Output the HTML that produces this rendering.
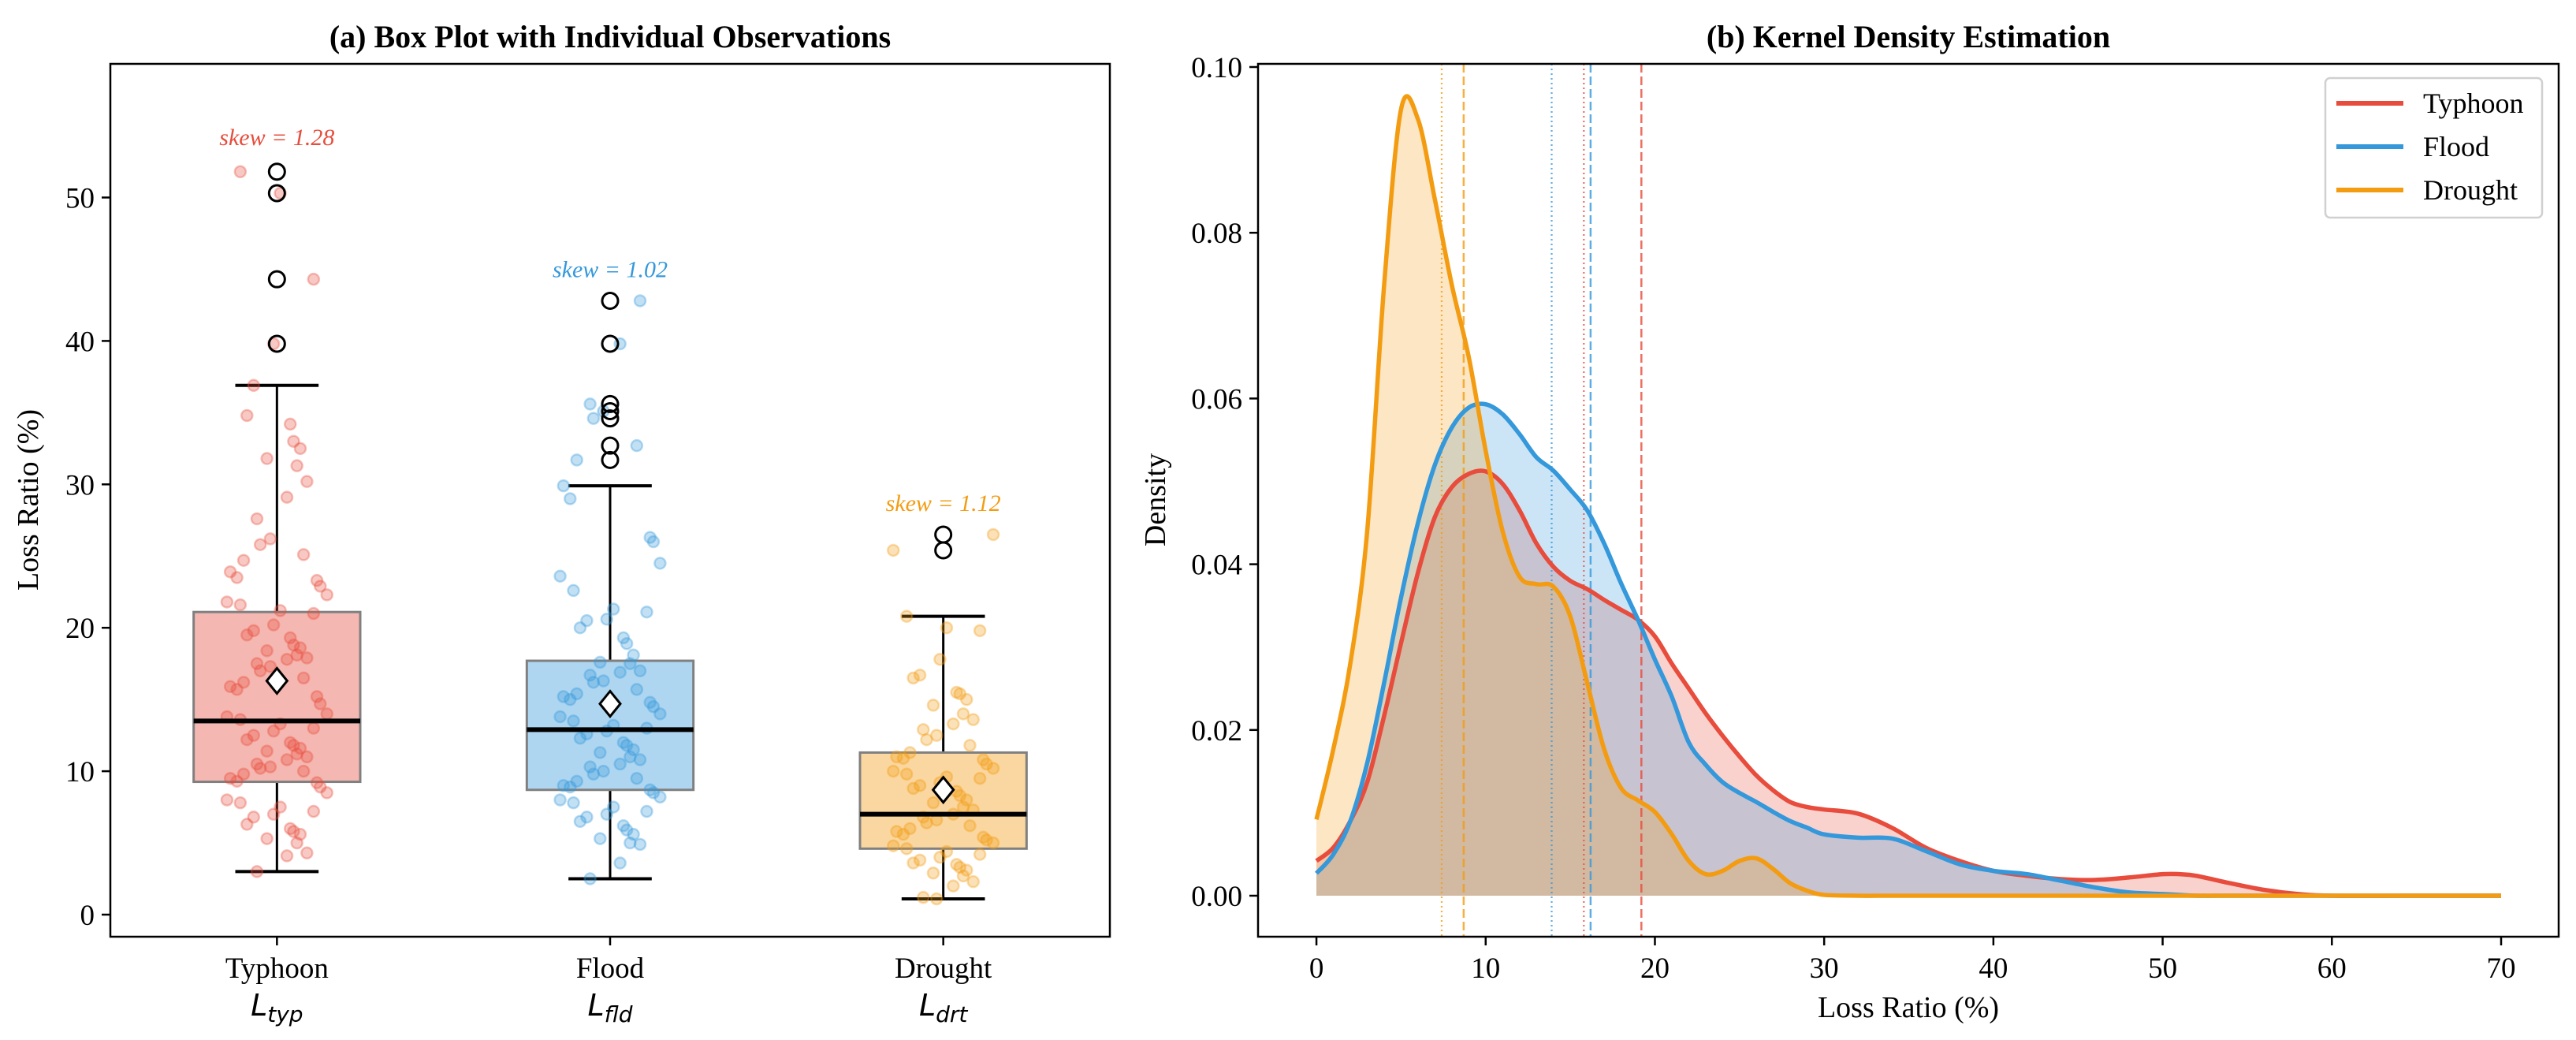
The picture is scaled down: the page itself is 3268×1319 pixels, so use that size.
<!DOCTYPE html>
<html><head><meta charset="utf-8"><style>
html,body{margin:0;padding:0;background:#fff;}
svg{display:block;font-family:"Liberation Serif","DejaVu Serif",serif;}
</style></head><body>
<svg id="fig" width="3268" height="1319" viewBox="0 0 3268 1319" xmlns="http://www.w3.org/2000/svg">
<rect width="3268" height="1319" fill="#fff"/>
<g id="left"></g>
<g id="right"></g>
</svg>
<script>
// ---------- Box plot data ----------
const boxCats = ["Typhoon","Flood","Drought"];
const boxSubs = ["typ","fld","drt"];
const boxColors = ["#e74c3c","#3498db","#f39c12"];
const boxQ1 = [9.26, 8.7, 4.6];
const boxMed = [13.5, 12.9, 7.0];
const boxQ3 = [21.1, 17.7, 11.3];
const boxMean = [16.3, 14.7, 8.7];
const whiskLo = [3.0, 2.5, 1.1];
const whiskHi = [36.9, 29.9, 20.8];
const skews = ["1.28","1.02","1.12"];
const skewY = [54.2, 45.0, 28.7];
const outTyp = [51.8, 50.3, 44.3, 39.8];
const outFld = [42.8, 39.8, 35.6, 35.1, 34.6, 32.7, 31.7];
const outDrt = [26.5, 25.4];
const ptsTyp = [51.8,50.3,44.3,39.8,36.9,34.8,34.2,33.0,32.5,31.8,31.3,30.2,29.1,27.6,26.2,25.8,25.1,24.7,23.9,23.5,23.3,22.9,22.3,21.8,21.6,21.2,21.0,20.2,19.8,19.5,19.3,18.8,18.6,18.4,18.1,17.9,17.8,17.5,17.3,17.0,16.5,16.2,15.9,15.7,15.2,14.7,14.0,13.8,13.6,13.3,13.0,12.8,12.5,12.2,12.0,11.8,11.6,11.4,11.2,11.0,10.8,10.5,10.3,10.2,10.0,9.8,9.5,9.3,9.2,8.9,8.5,8.0,7.8,7.5,7.2,7.0,6.8,6.3,6.0,5.8,5.6,5.3,5.0,4.3,4.1,3.0];
const ptsFld = [42.8,39.8,35.6,35.1,34.6,32.7,31.7,29.9,29.0,26.3,26.0,24.5,23.6,22.6,21.3,21.1,20.6,20.5,20.0,19.3,18.9,18.1,17.6,17.5,17.0,16.9,16.7,16.3,16.2,15.7,15.4,15.2,15.0,14.8,14.5,14.0,13.8,13.5,13.2,13.0,12.8,12.6,12.3,12.0,11.8,11.5,11.3,11.0,10.8,10.5,10.3,10.0,9.8,9.5,9.3,9.0,8.9,8.7,8.5,8.2,8.0,7.8,7.5,7.2,7.0,6.8,6.5,6.2,5.9,5.6,5.3,5.0,4.9,3.6,2.5];
const ptsDrt = [26.5,25.4,20.8,20.0,19.8,17.8,16.7,16.5,15.5,15.4,15.0,14.6,14.0,13.6,13.3,12.9,12.5,12.2,11.8,11.3,11.0,10.9,10.8,10.5,10.2,10.0,9.8,9.6,9.5,9.2,9.0,8.8,8.6,8.3,8.0,7.8,7.5,7.3,7.0,6.8,6.6,6.4,6.2,6.0,5.8,5.6,5.4,5.2,5.0,4.8,4.6,4.4,4.2,4.0,3.8,3.6,3.5,3.3,3.1,2.9,2.7,2.3,2.0,1.2,1.1];
const boxPts = [ptsTyp, ptsFld, ptsDrt];
const boxOut = [outTyp, outFld, outDrt];
const boxYTicks = [0,10,20,30,40,50];

// ---------- KDE data ----------
const kdeX = [0,1,2,3,4,5,6,7,8,9,10,11,12,13,14,15,16,17,18,19,20,21,22,23,24,25,26,27,28,29,30,32,34,36,38,40,42,44,46,48,50,51,52,54,56,58,60,65,70];
const kdeTyp = [0.0042,0.0058,0.009,0.0137,0.0217,0.0305,0.039,0.0457,0.0493,0.0509,0.0512,0.0497,0.0465,0.0425,0.0397,0.038,0.037,0.0357,0.0345,0.0333,0.0313,0.028,0.025,0.022,0.0193,0.0168,0.0145,0.0127,0.0113,0.0107,0.0104,0.0099,0.0082,0.0058,0.0042,0.003,0.0024,0.002,0.0019,0.0022,0.0026,0.0026,0.0024,0.0015,0.0007,0.0002,0,0,0];
const kdeFld = [0.0027,0.005,0.009,0.016,0.0257,0.036,0.045,0.052,0.0565,0.0589,0.0593,0.0581,0.0557,0.0529,0.0513,0.049,0.0465,0.0425,0.0377,0.0333,0.0285,0.024,0.0185,0.0158,0.0137,0.0124,0.0113,0.0101,0.009,0.0082,0.0074,0.007,0.0069,0.0054,0.0038,0.003,0.0026,0.0018,0.001,0.0004,0.0002,0.0001,0,0,0,0,0,0,0];
const kdeDrt = [0.0092,0.0177,0.028,0.044,0.0737,0.0949,0.0937,0.084,0.0737,0.065,0.0537,0.044,0.0385,0.0376,0.0373,0.0337,0.0257,0.0177,0.013,0.0115,0.0101,0.0074,0.0042,0.0026,0.003,0.0042,0.0045,0.0032,0.0015,0.0006,0.0001,0,0,0,0,0,0,0,0,0,0,0,0,0,0,0,0,0,0];
const kdeSeries = [kdeTyp, kdeFld, kdeDrt];
const kdeNames = ["Typhoon","Flood","Drought"];
const kdeMedians = [15.8, 13.9, 7.4];
const kdeMeans = [19.2, 16.2, 8.7];
const kdeXTicks = [0,10,20,30,40,50,60,70];
const kdeYTicks = [0,0.02,0.04,0.06,0.08,0.10];

const NS = "http://www.w3.org/2000/svg";
function mk(parent, tag, attrs, text){
  const e = document.createElementNS(NS, tag);
  for (const k in attrs) e.setAttribute(k, attrs[k]);
  if (text !== undefined) e.textContent = text;
  parent.appendChild(e);
  return e;
}
const jitterPattern = [-0.11,0.05,-0.02,0.13,-0.07,0.09,-0.14,0.01,0.07,-0.05,0.15,-0.09,0.03,-0.12,0.11,-0.03,0.08,-0.15,0.04,-0.06,0.12,-0.01,0.06,-0.1];

// ---------- Left panel ----------
(function(){
  const g = document.getElementById('left');
  const L=140, R=1408, T=81, B=1188;
  const xs = v => L + (v-0.5)/3*(R-L);
  const ys = v => 1160 - v*18.19;
  let t;
  t = mk(g,'text',{x:774,y:60,'text-anchor':'middle','font-size':40,'font-weight':'bold'},'(a) Box Plot with Individual Observations');
   
  t = mk(g,'text',{x:0,y:0,transform:'translate(48,634) rotate(-90)','text-anchor':'middle','font-size':38},'Loss Ratio (%)');
   
  boxYTicks.forEach(v=>{
    const y=ys(v);
    const tk = mk(g,'line',{x1:L-11,x2:L,y1:y,y2:y,stroke:'#000','stroke-width':2.5});
     
    const lb = mk(g,'text',{x:L-20,y:y+13,'text-anchor':'end','font-size':37},String(v));
     
  });
  boxCats.forEach((c,i)=>{
    const cx = xs(i+1), col = boxColors[i], hw = 0.25*(R-L)/3, cw = 0.125*(R-L)/3;
    const grp = mk(g,'g',{});
     
    // whiskers
    let w = mk(grp,'line',{x1:cx,x2:cx,y1:ys(boxQ3[i]),y2:ys(whiskHi[i]),stroke:'#000','stroke-width':3});
     
    w = mk(grp,'line',{x1:cx,x2:cx,y1:ys(boxQ1[i]),y2:ys(whiskLo[i]),stroke:'#000','stroke-width':3});
     
    w = mk(grp,'line',{x1:cx-cw,x2:cx+cw,y1:ys(whiskHi[i]),y2:ys(whiskHi[i]),stroke:'#000','stroke-width':4});
     
    w = mk(grp,'line',{x1:cx-cw,x2:cx+cw,y1:ys(whiskLo[i]),y2:ys(whiskLo[i]),stroke:'#000','stroke-width':4});
     
    const rect = mk(grp,'rect',{x:cx-hw,y:ys(boxQ3[i]),width:2*hw,height:ys(boxQ1[i])-ys(boxQ3[i]),fill:col,'fill-opacity':0.4,stroke:'#808080','stroke-width':3});
     
    // points
    boxPts[i].forEach((v,k)=>{
      const p = mk(grp,'circle',{cx:cx+jitterPattern[(k*7+i*5)%jitterPattern.length]*(R-L)/3,cy:ys(v),r:7,fill:col,'fill-opacity':0.3,stroke:col,'stroke-opacity':0.35,'stroke-width':2.5});
       
    });
    const med = mk(grp,'line',{x1:cx-hw,x2:cx+hw,y1:ys(boxMed[i]),y2:ys(boxMed[i]),stroke:'#000','stroke-width':6});
     
    boxOut[i].forEach(v=>{
      const o = mk(grp,'circle',{cx:cx,cy:ys(v),r:10,fill:'none',stroke:'#000','stroke-width':3});
       
    });
    const my = ys(boxMean[i]);
    const d = mk(grp,'polygon',{points:`${cx},${my-16} ${cx+13},${my} ${cx},${my+16} ${cx-13},${my}`,fill:'#fff',stroke:'#000','stroke-width':3});
     
    const sk = mk(g,'text',{x:cx,y:ys(skewY[i])+10,'text-anchor':'middle','font-size':30,'font-style':'italic',fill:col},'skew = '+skews[i]);
     
    const tk = mk(g,'line',{x1:cx,x2:cx,y1:B,y2:B+11,stroke:'#000','stroke-width':2.5});
     
    const lb = mk(g,'text',{x:cx,y:1240,'text-anchor':'middle','font-size':37},c);
     
    const sb = mk(g,'text',{x:cx,y:1288,'text-anchor':'middle','font-size':38,'font-family':'"DejaVu Sans",sans-serif','font-style':'oblique'});
     
    mk(sb,'tspan',{},'L');
    mk(sb,'tspan',{'font-size':28,dy:8},boxSubs[i]);
  });
  const fr = mk(g,'rect',{x:L,y:T,width:R-L,height:B-T,fill:'none',stroke:'#000','stroke-width':2.5});
   
})();

// ---------- Right panel ----------
(function(){
  const g = document.getElementById('right');
  const L=1596, R=3246, T=81, B=1188;
  const xs = v => L + (v+3.45)/(73.4+3.45)*(R-L);
  const ys = v => 1136 - v*10510;
  let t;
  t = mk(g,'text',{x:2421,y:60,'text-anchor':'middle','font-size':40,'font-weight':'bold'},'(b) Kernel Density Estimation');
   
  t = mk(g,'text',{x:0,y:0,transform:'translate(1478,634) rotate(-90)','text-anchor':'middle','font-size':38},'Density');
   
  t = mk(g,'text',{x:2421,y:1290,'text-anchor':'middle','font-size':38},'Loss Ratio (%)');
   
  kdeYTicks.forEach(v=>{
    const y=ys(v);
    const tk = mk(g,'line',{x1:L-11,x2:L,y1:y,y2:y,stroke:'#000','stroke-width':2.5});
     
    const lb = mk(g,'text',{x:L-20,y:y+13,'text-anchor':'end','font-size':37},v.toFixed(2));
     
  });
  kdeXTicks.forEach(v=>{
    const x=xs(v);
    const tk = mk(g,'line',{x1:x,x2:x,y1:B,y2:B+11,stroke:'#000','stroke-width':2.5});
     
    const lb = mk(g,'text',{x:x,y:1240,'text-anchor':'middle','font-size':37},String(v));
     
  });
  function smoothPath(ser){
    const pts = kdeX.map((x,i)=>[xs(x),ys(ser[i])]);
    let d = `M${pts[0][0]},${pts[0][1]}`;
    for(let i=0;i<pts.length-1;i++){
      const p0=pts[Math.max(0,i-1)],p1=pts[i],p2=pts[i+1],p3=pts[Math.min(pts.length-1,i+2)];
      const c1=[p1[0]+(p2[0]-p0[0])/6,p1[1]+(p2[1]-p0[1])/6];
      const c2=[p2[0]-(p3[0]-p1[0])/6,p2[1]-(p3[1]-p1[1])/6];
      d+=` C${c1[0]},${c1[1]} ${c2[0]},${c2[1]} ${p2[0]},${p2[1]}`;
    }
    return d;
  }
  kdeSeries.forEach((ser,i)=>{
    const d = smoothPath(ser);
    const x0 = xs(kdeX[0]), x1 = xs(kdeX[kdeX.length-1]), y0 = ys(0);
    const f = mk(g,'path',{d:d+` L${x1},${y0} L${x0},${y0} Z`,fill:boxColors[i],'fill-opacity':0.25,stroke:'none'});
     
  });
  kdeSeries.forEach((ser,i)=>{
    const col = boxColors[i];
    const md = mk(g,'line',{x1:xs(kdeMedians[i]),x2:xs(kdeMedians[i]),y1:T,y2:B,stroke:col,'stroke-width':2.2,'stroke-dasharray':'2,4','stroke-opacity':0.8});
     
    const mn = mk(g,'line',{x1:xs(kdeMeans[i]),x2:xs(kdeMeans[i]),y1:T,y2:B,stroke:col,'stroke-width':2.5,'stroke-dasharray':'11,5','stroke-opacity':0.8});
     
  });
  kdeSeries.forEach((ser,i)=>{
    const p = mk(g,'path',{d:smoothPath(ser),fill:'none',stroke:boxColors[i],'stroke-width':5.5,'stroke-linejoin':'round'});
     
  });
  const fr = mk(g,'rect',{x:L,y:T,width:R-L,height:B-T,fill:'none',stroke:'#000','stroke-width':2.5});
   
  const lg = mk(g,'g',{});
   
  const lbx = mk(lg,'rect',{x:2950,y:99,width:275,height:177,rx:6,fill:'#fff','fill-opacity':0.9,stroke:'#d0d0d0','stroke-width':2.5});
   
  kdeNames.forEach((n,i)=>{
    const y = 131 + i*55;
    const e = mk(lg,'g',{});
     
    mk(e,'line',{x1:2964,x2:3049,y1:y,y2:y,stroke:boxColors[i],'stroke-width':6});
    mk(e,'text',{x:3074,y:y+12,'font-size':36},n);
  });
})();
</script>
</body></html>
